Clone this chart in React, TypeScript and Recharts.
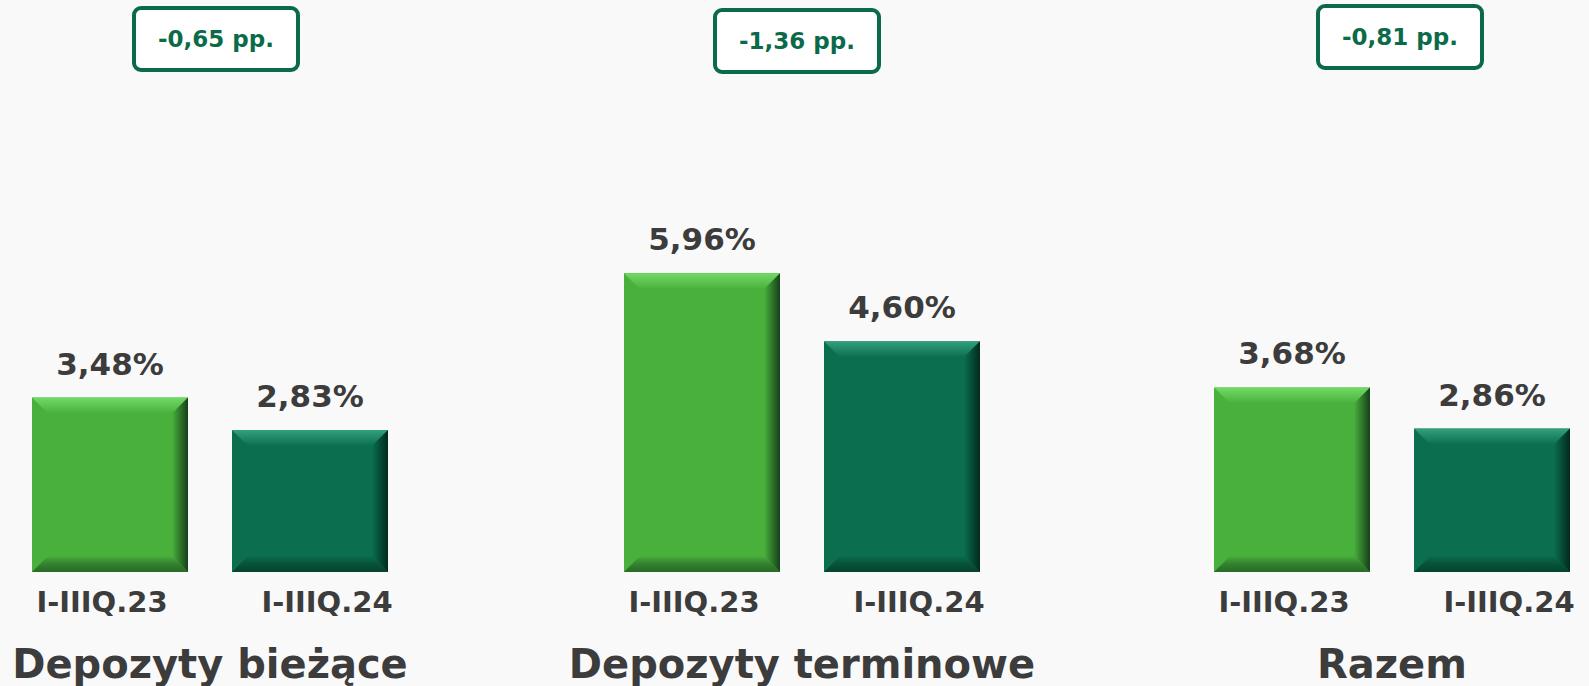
import React from "react";
import { BarChart, Bar, XAxis, YAxis, Cell, LabelList } from "recharts";

const groups = ["Depozyty bieżące", "Depozyty terminowe", "Razem"];
const periods = ["I-IIIQ.23", "I-IIIQ.24"];
const rates23 = [3.48, 5.96, 3.68];
const rates24 = [2.83, 4.6, 2.86];
const changes = ["-0,65 pp.", "-1,36 pp.", "-0,81 pp."];

const FONT = "'DejaVu Sans', sans-serif";
const TEXT = "#3c3c3c";
const DARK = "#0b6a48";

// face, top bevel, right/bottom shade
const PALETTE = [
  { face: "#49b03c", light: "#72da66", shade: "#14401a" },
  { face: "#0a6e4f", light: "#34a07d", shade: "#022a1c" },
];

const CHART_W = 400;
const CHART_H = 686;
const LEFTS = [10, 602, 1192];
const BOX_SHIFT = [{ dx: 6, top: 6 }, { dx: -5, top: 8 }, { dx: 8, top: 4 }];
const TICK_DX = [-8, 17];

function fmt(v: number) {
  return v.toFixed(2).replace(".", ",") + "%";
}

function BevelBar(props: any) {
  const { x, y, width, height, index } = props;
  const c = PALETTE[index] ?? PALETTE[0];
  const b = 16;
  const id = `g${index}`;
  return (
    <g>
      <defs>
        <linearGradient id={`${id}top`} x1="0" y1="0" x2="0" y2="1">
          <stop offset="0%" stopColor={c.light} />
          <stop offset="100%" stopColor={c.face} />
        </linearGradient>
        <linearGradient id={`${id}right`} x1="1" y1="0" x2="0" y2="0">
          <stop offset="0%" stopColor={c.shade} />
          <stop offset="100%" stopColor={c.face} />
        </linearGradient>
        <linearGradient id={`${id}bottom`} x1="0" y1="1" x2="0" y2="0">
          <stop offset="0%" stopColor={c.shade} stopOpacity={0.6} />
          <stop offset="100%" stopColor={c.face} />
        </linearGradient>
      </defs>
      <rect x={x} y={y} width={width} height={height} fill={c.face} />
      <polygon
        points={`${x},${y} ${x + width},${y} ${x + width - b},${y + b} ${x + b},${y + b}`}
        fill={`url(#${id}top)`}
      />
      <polygon
        points={`${x},${y + height} ${x + width},${y + height} ${x + width - b},${y + height - b} ${x + b},${y + height - b}`}
        fill={`url(#${id}bottom)`}
      />
      <polygon
        points={`${x + width},${y} ${x + width},${y + height} ${x + width - b},${y + height - b} ${x + width - b},${y + b}`}
        fill={`url(#${id}right)`}
      />
    </g>
  );
}

function PeriodTick(props: any) {
  const { x, y, payload, index } = props;
  return (
    <text
      x={x + (TICK_DX[index] ?? 0)}
      y={y}
      dy={32}
      textAnchor="middle"
      fill={TEXT}
      fontFamily={FONT}
      fontWeight={700}
      fontSize={29}
    >
      {payload.value}
    </text>
  );
}

function GroupChart({ i }: { i: number }) {
  const data = periods.map((p, k) => ({
    period: p,
    value: k === 0 ? rates23[i] : rates24[i],
  }));
  const left = LEFTS[i];
  return (
    <div style={{ position: "absolute", left, top: 0, width: CHART_W, height: CHART_H }}>
      <BarChart
        width={CHART_W}
        height={CHART_H}
        data={data}
        margin={{ top: 221, right: 0, bottom: 0, left: 0 }}
        style={{ overflow: "visible" }}
      >
        <YAxis hide domain={[0, 7]} />
        <XAxis
          dataKey="period"
          height={114}
          axisLine={false}
          tickLine={false}
          interval={0}
          tick={<PeriodTick />}
        />
        <Bar dataKey="value" barSize={156} shape={<BevelBar />} isAnimationActive={false}>
          {data.map((d, k) => (
            <Cell key={d.period} fill={PALETTE[k].face} />
          ))}
          <LabelList
            dataKey="value"
            position="top"
            offset={23}
            formatter={(v: any) => fmt(Number(v))}
            fill={TEXT}
            fontFamily={FONT}
            fontWeight={700}
            fontSize={31}
          />
        </Bar>
      </BarChart>
      <div
        style={{
          position: "absolute",
          left: CHART_W / 2 - 84 + BOX_SHIFT[i].dx,
          top: BOX_SHIFT[i].top,
          width: 168,
          height: 66,
          boxSizing: "border-box",
          border: `4px solid ${DARK}`,
          borderRadius: 9,
          background: "#ffffff",
          display: "flex",
          alignItems: "center",
          justifyContent: "center",
          color: DARK,
          fontFamily: FONT,
          fontWeight: 700,
          fontSize: 23,
        }}
      >
        {changes[i]}
      </div>
      <div
        style={{
          position: "absolute",
          left: -100,
          width: CHART_W + 200,
          top: 644,
          textAlign: "center",
          color: TEXT,
          fontFamily: FONT,
          fontWeight: 700,
          fontSize: 40,
          lineHeight: "40px",
          whiteSpace: "nowrap",
        }}
      >
        {groups[i]}
      </div>
    </div>
  );
}

export default function App() {
  return (
    <div
      style={{
        position: "absolute",
        left: 0,
        top: 0,
        width: 1589,
        height: 686,
        overflow: "hidden",
        background: "#f9f9f9",
      }}
    >
      {groups.map((g, i) => (
        <GroupChart key={g} i={i} />
      ))}
    </div>
  );
}
